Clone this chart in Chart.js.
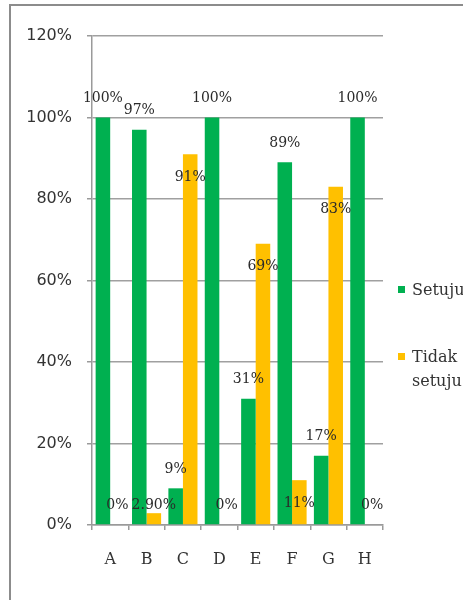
<!DOCTYPE html>
<html>
<head>
<meta charset="utf-8">
<script src="https://cdn.jsdelivr.net/npm/chart.js@4/dist/chart.umd.min.js"></script>
<style>
  html, body { margin: 0; padding: 0; background: #fff; }
  #wrap { position: relative; width: 463px; height: 600px; overflow: hidden; }
  #frame {
    position: absolute; left: 9px; top: 4px; right: -10px; bottom: -10px;
    border-left: 2px solid #8c8c8c; border-top: 2px solid #8c8c8c;
  }
  #chart { position: absolute; left: 0; top: 0; }
  .legend-item {
    position: absolute; left: 398px;
    font: 16px "DejaVu Serif", serif; color: #333; white-space: nowrap; line-height: 24px;
  }
  .legend-item .swatch {
    position: absolute; left: 0; top: 8px; width: 7px; height: 7px;
  }
  .legend-item .txt { position: absolute; left: 14px; top: 0; }
</style>
</head>
<body>
<div id="wrap">
  <div id="frame"></div>
  <canvas id="chart" width="463" height="600"></canvas>
  <div id="legend"></div>
</div>
<script>
// Survey answers per item, in percent
const categories = ['A', 'B', 'C', 'D', 'E', 'F', 'G', 'H'];
const seriesNames = ['Setuju', 'Tidak setuju'];
const setuju = [100, 97, 9, 100, 31, 89, 17, 100];
const tidakSetuju = [0, 2.9, 91, 0, 69, 11, 83, 0];
const yTicks = [0, 20, 40, 60, 80, 100, 120];
const colors = ['#00B050', '#FFC000'];

const fmtPct = v => (Number.isInteger(v) ? v : v.toFixed(2)) + '%';

// Value labels: green ones sit above the bar, yellow ones just inside the top
const valueLabels = {
  id: 'valueLabels',
  afterDatasetsDraw(chart) {
    const ctx = chart.ctx;
    const base = chart.scales.y.getPixelForValue(0);
    ctx.save();
    ctx.font = '14px "DejaVu Serif", serif';
    ctx.fillStyle = '#2a2a2a';
    ctx.textAlign = 'center';
    ctx.textBaseline = 'middle';
    chart.data.datasets.forEach((ds, di) => {
      chart.getDatasetMeta(di).data.forEach((bar, i) => {
        const v = ds.data[i];
        let y;
        if (di === 0) y = bar.y - 19;
        else y = Math.min(bar.y + 23, base - 20);
        ctx.fillText(fmtPct(v), bar.x, y);
      });
    });
    ctx.restore();
  }
};

new Chart(document.getElementById('chart'), {
  type: 'bar',
  data: {
    labels: categories,
    datasets: [
      { label: seriesNames[0], data: setuju, backgroundColor: colors[0] },
      { label: seriesNames[1], data: tidakSetuju, backgroundColor: colors[1] }
    ]
  },
  options: {
    responsive: false,
    animation: false,
    layout: { padding: { left: 0, top: 36, right: 80, bottom: 35 } },
    datasets: { bar: { categoryPercentage: 0.8, barPercentage: 1.0 } },
    plugins: { legend: { display: false }, tooltip: { enabled: false } },
    scales: {
      x: {
        afterFit(scale) { scale.height = 40; },
        grid: { drawOnChartArea: false, drawTicks: true, tickLength: 5, tickColor: '#9a9a9a', lineWidth: 1.5 },
        border: { color: '#9a9a9a', width: 1.5 },
        ticks: { color: '#333', font: { family: '"DejaVu Serif", serif', size: 16 }, padding: 20 }
      },
      y: {
        min: 0, max: 120,
        afterFit(scale) { scale.width = 92; },
        afterBuildTicks(scale) { scale.ticks = yTicks.map(v => ({ value: v })); },
        grid: { color: '#a0a0a0', lineWidth: 1.5, tickLength: 5, tickColor: '#9a9a9a' },
        border: { color: '#9a9a9a', width: 1.5 },
        ticks: {
          color: '#333', padding: 15,
          font: { family: '"DejaVu Sans", sans-serif', size: 16 },
          callback: v => v + '%'
        }
      }
    }
  },
  plugins: [valueLabels]
});

// Legend on the right, built from the series names
const legendTops = [278, 345];
const legend = document.getElementById('legend');
seriesNames.forEach((name, i) => {
  const item = document.createElement('div');
  item.className = 'legend-item';
  item.style.top = legendTops[i] + 'px';
  const words = name.split(' ');
  item.innerHTML = '<span class="swatch" style="background:' + colors[i] + '"></span>' +
    '<span class="txt">' + words.join('<br>') + '</span>';
  legend.appendChild(item);
});
</script>
</body>
</html>
